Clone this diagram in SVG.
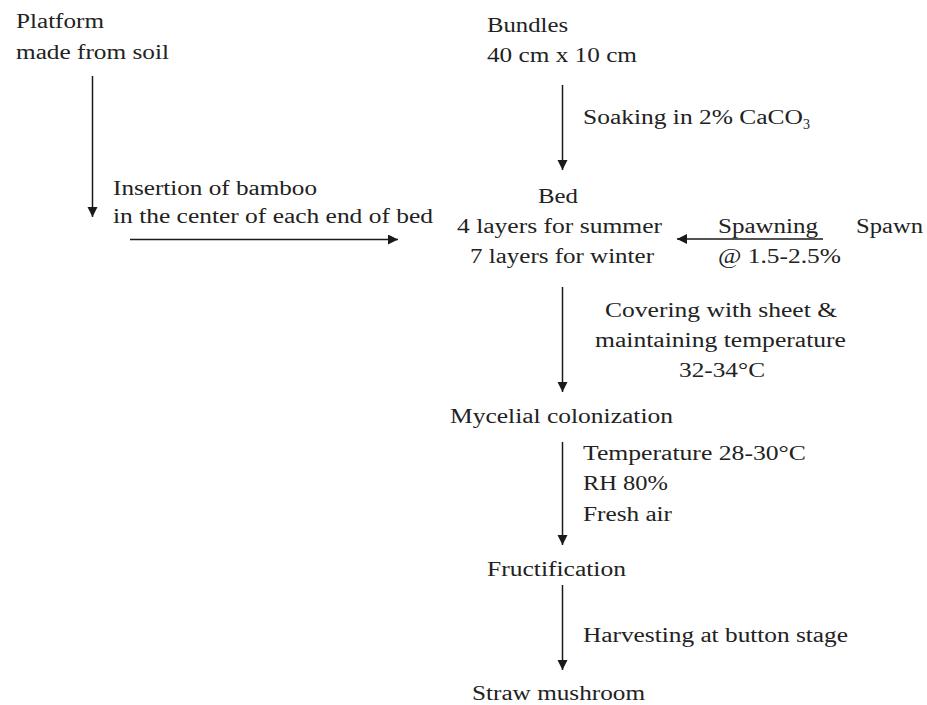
<svg xmlns="http://www.w3.org/2000/svg" width="927" height="705" viewBox="0 0 927 705">
<style>
text{font-family:"Liberation Serif","Times New Roman",serif;font-size:20px;fill:#222}
.c line{stroke:#1a1a1a;stroke-width:1.5;marker-end:url(#ah)}
</style>
<defs>
<marker id="ah" markerUnits="userSpaceOnUse" markerWidth="11" markerHeight="11" refX="10" refY="5" orient="auto">
<path d="M0,0 L10,5 L0,10 z" fill="#1a1a1a"/>
</marker>
</defs>
<rect width="927" height="705" fill="#fff"/>
<g id="platform">
<text x="16" y="28" textLength="88" lengthAdjust="spacingAndGlyphs">Platform</text>
<text x="16" y="59" textLength="153" lengthAdjust="spacingAndGlyphs">made from soil</text>
</g>
<g id="bundles">
<text x="487" y="32" textLength="81" lengthAdjust="spacingAndGlyphs">Bundles</text>
<text x="487" y="62" textLength="150" lengthAdjust="spacingAndGlyphs">40 cm x 10 cm</text>
</g>
<g id="bed">
<text x="538" y="203" textLength="40" lengthAdjust="spacingAndGlyphs">Bed</text>
<text x="457" y="233" textLength="205" lengthAdjust="spacingAndGlyphs">4 layers for summer</text>
<text x="470" y="263" textLength="184" lengthAdjust="spacingAndGlyphs">7 layers for winter</text>
</g>
<g id="spawn">
<text x="856" y="233" textLength="67" lengthAdjust="spacingAndGlyphs">Spawn</text>
</g>
<g id="mycelial">
<text x="450" y="423" textLength="223" lengthAdjust="spacingAndGlyphs">Mycelial colonization</text>
</g>
<g id="fructification">
<text x="487" y="576" textLength="139" lengthAdjust="spacingAndGlyphs">Fructification</text>
</g>
<g id="straw">
<text x="472" y="700" textLength="173" lengthAdjust="spacingAndGlyphs">Straw mushroom</text>
</g>
<g id="connectors" class="c">
<line x1="92.5" y1="76" x2="92.5" y2="217"/>
<line x1="130" y1="239.5" x2="398" y2="239.5"/>
<line x1="562.5" y1="85" x2="562.5" y2="170"/>
<line x1="823" y1="239" x2="677" y2="239"/>
<line x1="562.5" y1="287" x2="562.5" y2="392"/>
<line x1="562.5" y1="442" x2="562.5" y2="545"/>
<line x1="562.5" y1="585" x2="562.5" y2="670"/>
</g>
<g id="labels">
<text x="113" y="195" textLength="204" lengthAdjust="spacingAndGlyphs">Insertion of bamboo</text>
<text x="113" y="223" textLength="320" lengthAdjust="spacingAndGlyphs">in the center of each end of bed</text>
<text x="583" y="124" textLength="220" lengthAdjust="spacingAndGlyphs">Soaking in 2% CaCO</text>
<text x="803" y="129" style="font-size:14px">3</text>
<text x="718" y="233" textLength="100" lengthAdjust="spacingAndGlyphs">Spawning</text>
<text x="718" y="263" textLength="123" lengthAdjust="spacingAndGlyphs">@ 1.5-2.5%</text>
<text x="605" y="317" textLength="232" lengthAdjust="spacingAndGlyphs">Covering with sheet &amp;</text>
<text x="595" y="347" textLength="251" lengthAdjust="spacingAndGlyphs">maintaining temperature</text>
<text x="679" y="377" textLength="86" lengthAdjust="spacingAndGlyphs">32-34°C</text>
<text x="583" y="460" textLength="223" lengthAdjust="spacingAndGlyphs">Temperature 28-30°C</text>
<text x="583" y="490" textLength="85" lengthAdjust="spacingAndGlyphs">RH 80%</text>
<text x="583" y="521" textLength="89" lengthAdjust="spacingAndGlyphs">Fresh air</text>
<text x="583" y="642" textLength="265" lengthAdjust="spacingAndGlyphs">Harvesting at button stage</text>
</g>
</svg>
